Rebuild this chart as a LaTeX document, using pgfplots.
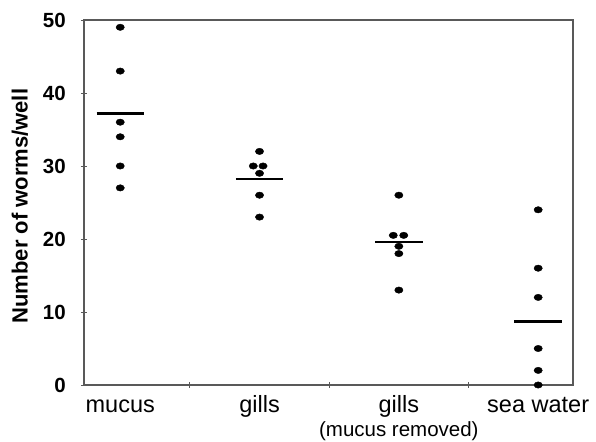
\documentclass[border=0pt]{standalone}
\usepackage{fontspec}
\setmainfont{Liberation Sans}
\usepackage{pgfplots}
\pgfplotsset{compat=1.18}
\begin{document}
\begin{tikzpicture}
\begin{axis}[
  name=ax,
  scale only axis,
  width=489bp, height=365bp,
  xmin=0.74, xmax=4.25,
  ymin=0, ymax=50,
  clip=false,
  axis line style={black!65, line width=1.1bp},
  tick style={black!65, line width=0.9bp},
  tick align=center,
  xtick pos=bottom, ytick pos=left,
  xtick={1,2,3,4},
  xticklabels={mucus, gills, gills, sea water},
  major x tick style={draw=none},
  minor xtick={1.5,2.5,3.5},
  minor tick length=6bp,
  major tick length=6bp,
  ytick={0,10,20,30,40,50},
  /pgf/number format/assume math mode=true,
  xticklabel style={anchor=base, yshift=-25bp, inner sep=0pt, font=\fontsize{23.5bp}{26bp}\selectfont},
  yticklabel style={anchor=east, inner sep=0pt, xshift=-15bp, font=\fontsize{20.5bp}{22bp}\selectfont\bfseries},
  every axis y label/.style={at={(axis description cs:-0.131,0.49)}, rotate=90, anchor=center, font=\fontsize{22bp}{24bp}\selectfont\bfseries},
  ylabel={Number of worms/well},
]
% individual wells
\addplot[only marks, mark=*, mark size=3.2bp, mark options={xscale=1.3, fill=black, draw=black}] coordinates {
  (1,49) (1,43) (1,36) (1,34) (1,30) (1,27)
};
\addplot[only marks, mark=*, mark size=3.2bp, mark options={xscale=1.3, fill=black, draw=black}] coordinates {
  (2,32) (1.955,30) (2.025,30) (2,29) (2,26) (2,23)
};
\addplot[only marks, mark=*, mark size=3.2bp, mark options={xscale=1.3, fill=black, draw=black}] coordinates {
  (3,26) (2.96,20.5) (3.035,20.5) (3,19) (3,18) (3,13)
};
\addplot[only marks, mark=*, mark size=3.2bp, mark options={xscale=1.3, fill=black, draw=black}] coordinates {
  (4,24) (4,16) (4,12) (4,5) (4,2) (4,0)
};
% means
\addplot[black, line width=2.6bp] coordinates {(0.83,37.2) (1.17,37.2)};
\addplot[black, line width=2.6bp] coordinates {(1.83,28.2) (2.17,28.2)};
\addplot[black, line width=2.6bp] coordinates {(2.83,19.6) (3.17,19.6)};
\addplot[black, line width=2.6bp] coordinates {(3.83,8.7) (4.17,8.7)};
\node[anchor=base, inner sep=0pt, font=\fontsize{20.5bp}{22bp}\selectfont] at ([yshift=-52bp]axis cs:3,0) {(mucus removed)};
\end{axis}
\path (ax.south west) ++(-84bp,-55bp) rectangle ([xshift=23bp,yshift=20bp]ax.north east);
\end{tikzpicture}
\end{document}
